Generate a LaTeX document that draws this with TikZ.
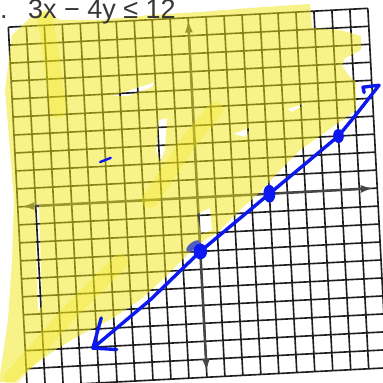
\documentclass[tikz,border=0pt]{standalone}
\usepackage{fontspec}
\setmainfont{Liberation Sans}
\usetikzlibrary{arrows.meta}
\definecolor{gridink}{RGB}{30,30,30}
\definecolor{axisink}{RGB}{70,70,70}
\definecolor{textgray}{RGB}{55,55,55}
\definecolor{penblue}{RGB}{12,24,240}
\definecolor{marker}{RGB}{242,232,20}
\definecolor{smudge}{RGB}{80,92,190}
\tikzset{
    gridline/.style={gridink, line width=2.3pt},
    axis/.style={axisink, line width=3.6pt,
        {Latex[length=6.5mm,width=4mm]}-{Latex[length=6.5mm,width=4mm]}},
    pen/.style={penblue, line width=4.8pt, line cap=round, line join=round},
    highlight/.style={fill=marker, fill opacity=0.5},
    streak/.style={marker, opacity=0.3, line width=0.8cm, line cap=round, line join=round},
}
\begin{document}
\begin{tikzpicture}
    \useasboundingbox[fill=white] (0,0) rectangle (19.15,19.1);
    \clip (0,0) rectangle (19.15,19.1);

    % Graph paper
    \begin{scope}[shift={(9.875,9.225)}, rotate=3, scale=0.9]
        \draw[gridline] (-10,-10) grid (10,10);
        % Axes
        \draw[axis] (-9.8,0) -- (9.8,0);
        \draw[axis] (0,-9.7) -- (0,9.9);
    \end{scope}

    % Highlighter (drawn in pixels of the scan)
    \begin{scope}[shift={(0,19.1)}, x=0.05cm, y=-0.05cm]
        \fill[highlight, even odd rule]
            (12,35) -- (30,18) -- (45,12) -- (60,20) -- (100,20) -- (150,15)
            -- (200,12) -- (250,8) -- (310,4) -- (312,28) -- (340,30)
            -- (361,36) -- (361,50) -- (345,58) -- (342,66) -- (350,77)
            -- (356,82) -- (356,110) -- (345,118) -- (320,136) -- (300,150)
            -- (282,168) -- (262,190) -- (240,210) -- (218,232) -- (200,243)
            -- (180,262) -- (162,280) -- (140,300) -- (110,320) -- (80,335)
            -- (55,350) -- (30,368) -- (15,382) -- (0,382) -- (0,375)
            -- (8,320) -- (12,260) -- (14,200) -- (10,150) -- (5,90) -- cycle
            % gaps in the strokes
            (112,96) -- (130,90) -- (156,82) -- (150,88) -- (128,96) -- cycle
            (159,120) -- (167,118) -- (165,150) -- (160,162) -- (156,150) -- cycle
            (197,214) -- (210,208) -- (212,230) -- (201,234) -- cycle
            (233,134) -- (250,128) -- (246,137) -- cycle
            (287,109) -- (307,103) -- (292,112) -- cycle
            (35,205) -- (39,203) -- (42,305) -- (38,312) -- cycle;
        \draw[streak] (45,18) -- (52,60) -- (58,110);
        \draw[streak] (12,378) -- (70,312) -- (120,262);
        \draw[streak] (150,200) -- (190,140) -- (215,110);
    \end{scope}

    % Pen work
    \begin{scope}[shift={(9.875,9.225)}, rotate=3, scale=0.9]
        \coordinate (lowtip) at (-6.24,-8.05);
        \coordinate (bend) at (-2.93,-5.55);
        \coordinate (yint) at (0,-3);
        \coordinate (xint) at (4,0);
        \coordinate (third) at (8,3);
        \coordinate (kink) at (9.05,4.15);
        \coordinate (hightip) at (10.4,5.7);
        \fill[smudge, rotate around={35:(-0.39,-2.68)}] (-0.39,-2.68) ellipse (0.45 and 0.2);
        \draw[pen] (lowtip) -- (bend) -- (yint) -- (xint) -- (third) -- (kink) -- (hightip);
        \draw[pen] (lowtip) -- ++(0.55,1.65);
        \draw[pen] (lowtip) -- ++(1.32,-0.15);
        \draw[pen] (hightip) -- ++(-0.9,-0.06) -- ++(0.05,-0.3);
        \fill[penblue] (yint) ellipse (0.38 and 0.44);
        \fill[penblue] (xint) ellipse (0.33 and 0.5);
        \fill[penblue] (third) ellipse (0.3 and 0.39);
        \draw[pen, line width=3.4pt] (-5.3,2.25) -- (-4.7,2.45);
    \end{scope}

    % Problem text
    \node[anchor=base west, inner sep=0, text=textgray, font=\fontsize{38.4}{40}\selectfont] (num) at (0,18.15) {.};
    \node[anchor=base west, inner sep=0, text=textgray, font=\fontsize{38.4}{40}\selectfont] (ineq) at (1.4,18.15) {3x − 4y ≤ 12};
\end{tikzpicture}
\end{document}
